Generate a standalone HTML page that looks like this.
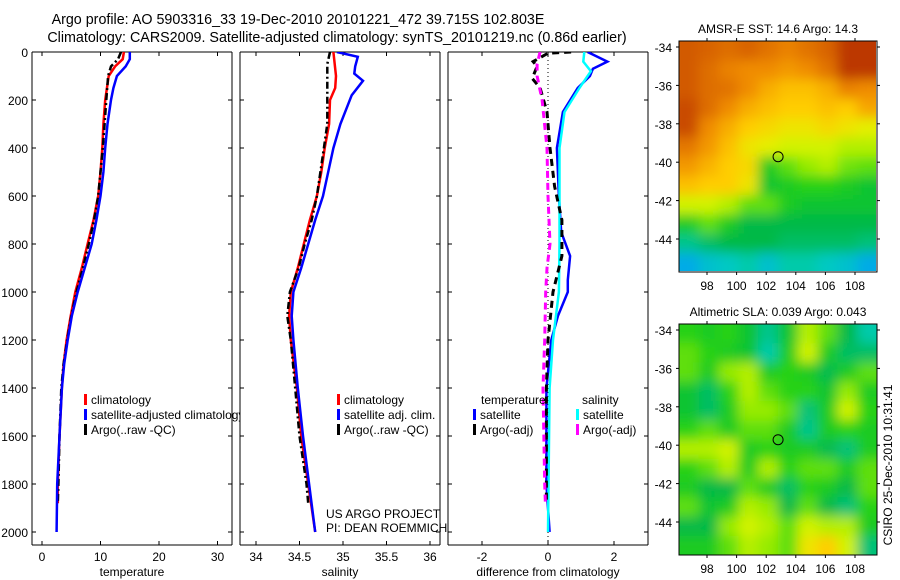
<!DOCTYPE html>
<html><head><meta charset="utf-8"><style>
body{margin:0;background:#fff;}
svg{display:block;font-family:"Liberation Sans",sans-serif;}
</style></head><body>
<svg id="chart" width="900" height="580" viewBox="0 0 900 580">
<defs>
<clipPath id="c1"><rect x="32" y="52" width="208" height="494"/></clipPath>
<clipPath id="c2"><rect x="240" y="52" width="200" height="494"/></clipPath>
<clipPath id="c3"><rect x="448" y="52" width="200" height="494"/></clipPath>
<clipPath id="cm1"><rect x="679" y="41" width="197" height="230"/></clipPath>
<clipPath id="cm2"><rect x="679" y="324" width="198" height="231"/></clipPath>
<filter id="bl" x="-5%" y="-5%" width="110%" height="110%"><feGaussianBlur stdDeviation="6"/></filter>
</defs>
<text x="298" y="24" font-size="14.3" text-anchor="middle">Argo profile: AO 5903316_33 19-Dec-2010 20101221_472 39.715S 102.803E</text>
<text x="337" y="42" font-size="14.3" text-anchor="middle">Climatology: CARS2009. Satellite-adjusted climatology: synTS_20101219.nc (0.86d earlier)</text>
<g id="axes"></g>
<g id="maps"></g>
<text transform="translate(892,465) rotate(-90)" font-size="12" text-anchor="middle">CSIRO 25-Dec-2010 10:31:41</text>
</svg>
<script>
// ---- data ----
const depthTicks=[0,200,400,600,800,1000,1200,1400,1600,1800,2000];
const tempTicks=[0,10,20,30];
const salTicks=[34,34.5,35,35.5,36];
const diffTicks=[-2,0,2];
const latTicks=[-34,-36,-38,-40,-42,-44];
const lonTicks=[98,100,102,104,106,108];
const tempClimDepth=[0,30,60,100,200,300,400,500,600,700,800,900,1000,1100,1200,1300,1400,1600,1800,1880];
const tempClim=[14.0,13.8,12.5,11.4,10.8,10.5,10.3,10.0,9.6,8.8,7.8,6.8,5.7,4.9,4.2,3.7,3.4,3.0,2.7,2.7];
const tempSatDepth=[0,30,60,100,150,200,300,400,500,600,700,800,900,1000,1100,1200,1300,1400,1600,1800,2000];
const tempSat=[15.0,15.0,14.3,12.8,12.2,11.8,11.2,10.8,10.5,10.0,9.3,8.5,7.3,6.1,5.1,4.4,3.8,3.4,3.0,2.6,2.5];
const tempArgoDepth=[0,30,60,100,200,300,400,500,600,700,800,900,1000,1100,1200,1300,1400,1600,1800,1880];
const tempArgo=[13.5,13.0,11.8,11.3,11.0,10.7,10.4,10.0,9.6,8.9,8.0,7.0,5.9,5.0,4.3,3.7,3.3,3.0,2.8,2.7];
const salClimDepth=[0,100,150,200,300,400,500,600,700,800,900,1000,1100,1200,1400,1600,1800,2000];
const salClim=[34.89,34.92,34.91,34.85,34.84,34.79,34.75,34.70,34.62,34.55,34.48,34.40,34.38,34.40,34.47,34.52,34.60,34.68];
const salArgoDepth=[0,50,100,200,300,400,500,600,700,800,900,1000,1100,1200,1400,1600,1800,1880];
const salArgo=[34.85,34.82,34.82,34.82,34.82,34.78,34.74,34.70,34.64,34.56,34.49,34.39,34.36,34.40,34.45,34.50,34.58,34.60];
const salSatDepth=[0,20,60,90,120,180,300,400,500,600,700,800,900,1000,1100,1200,1400,1600,1800,2000];
const salSat=[34.93,35.17,35.14,35.13,35.23,35.10,34.97,34.89,34.83,34.77,34.68,34.60,34.52,34.43,34.41,34.43,34.48,34.54,34.61,34.68];
const dTSatDepth=[0,40,70,100,150,250,400,600,750,850,950,1000,1100,1200,1400,1800,2000];
const dTSat=[1.2,1.8,1.36,1.27,0.9,0.45,0.27,0.33,0.4,0.67,0.6,0.6,0.3,0.1,-0.05,-0.05,0.05];
const dSSatDepth=[0,40,80,150,250,400,600,800,1000,1200,1400,2000];
const dSSat=[1.1,1.07,1.3,0.95,0.5,0.35,0.35,0.35,0.33,0.15,0.05,0];
const dTArgoDepth=[0,5,40,60,110,150,250,400,560,700,850,1000,1200,1400,1800,1880];
const dTArgo=[0.7,0.0,-0.45,-0.33,-0.48,-0.24,-0.03,0.06,0.2,0.42,0.42,0.15,0,-0.05,-0.05,-0.05];
const dSArgoDepth=[0,50,100,200,400,600,800,900,1000,1200,1400,1800,1880];
const dSArgo=[-0.24,-0.33,-0.33,-0.18,-0.03,0,0.06,-0.03,-0.07,-0.1,-0.15,-0.1,-0.08];
const sstGrid=[
[0.90,0.88,0.86,0.88,0.85,0.82,0.85,0.88,0.95,0.95],
[0.90,0.86,0.82,0.80,0.80,0.78,0.80,0.85,0.95,0.95],
[0.90,0.86,0.85,0.80,0.75,0.72,0.72,0.75,0.82,0.80],
[0.92,0.86,0.80,0.75,0.72,0.70,0.70,0.72,0.70,0.76],
[0.92,0.80,0.75,0.70,0.68,0.66,0.66,0.68,0.66,0.64],
[0.84,0.78,0.72,0.66,0.64,0.62,0.62,0.62,0.60,0.60],
[0.78,0.74,0.70,0.68,0.50,0.55,0.58,0.60,0.56,0.55],
[0.72,0.70,0.70,0.66,0.48,0.50,0.52,0.52,0.50,0.48],
[0.62,0.62,0.60,0.55,0.55,0.50,0.48,0.48,0.48,0.48],
[0.50,0.55,0.50,0.45,0.45,0.45,0.45,0.45,0.45,0.45],
[0.38,0.42,0.45,0.45,0.45,0.42,0.42,0.42,0.42,0.40],
[0.25,0.30,0.32,0.35,0.30,0.35,0.35,0.32,0.30,0.25]];
const slaGrid=[
[0.52,0.50,0.52,0.48,0.38,0.48,0.60,0.55,0.45,0.35],
[0.55,0.52,0.50,0.48,0.35,0.50,0.62,0.50,0.42,0.42],
[0.55,0.50,0.58,0.60,0.50,0.52,0.50,0.44,0.50,0.55],
[0.48,0.42,0.52,0.60,0.55,0.52,0.52,0.48,0.58,0.50],
[0.48,0.42,0.50,0.58,0.58,0.55,0.40,0.50,0.62,0.52],
[0.52,0.55,0.50,0.55,0.55,0.50,0.38,0.50,0.52,0.50],
[0.60,0.60,0.62,0.50,0.52,0.50,0.50,0.44,0.40,0.50],
[0.52,0.55,0.60,0.50,0.60,0.52,0.55,0.55,0.50,0.55],
[0.50,0.45,0.45,0.55,0.50,0.42,0.52,0.50,0.45,0.55],
[0.55,0.48,0.50,0.60,0.58,0.45,0.55,0.45,0.40,0.52],
[0.45,0.45,0.58,0.62,0.60,0.55,0.62,0.60,0.60,0.50],
[0.50,0.50,0.55,0.60,0.58,0.55,0.66,0.70,0.62,0.40]];
const floatLon=102.803, floatLat=-39.715;

// ---- helpers ----
const NS='http://www.w3.org/2000/svg';
const axes=document.getElementById('axes'), maps=document.getElementById('maps');
function mk(tag,attrs,parent){const e=document.createElementNS(NS,tag);for(const k in attrs)e.setAttribute(k,attrs[k]);(parent||axes).appendChild(e);return e;}
const yD=d=>52+d*0.24;
const xT=t=>42+t*5.85;
const xS=s=>256+(s-34)*87;
const xDf=v=>548+v*33;

function panel(x0,x1,xs,ticks,fmt,label,yLabels,name){
  const g=mk('g',{});
  
  
  const yb=545;
  mk('line',{x1:x0,y1:52,x2:x1,y2:52,stroke:'#000'},g);
  mk('line',{x1:x0,y1:yb,x2:x1,y2:yb,stroke:'#000'},g);
  mk('line',{x1:x0,y1:52,x2:x0,y2:yb,stroke:'#000'},g);
  mk('line',{x1:x1,y1:52,x2:x1,y2:yb,stroke:'#000'},g);
  ticks.forEach(t=>{const x=xs(t);
    mk('line',{x1:x,y1:yb,x2:x,y2:yb-4,stroke:'#000'},g);
    mk('line',{x1:x,y1:52,x2:x,y2:56,stroke:'#000'},g);
    const tx=mk('text',{x:x,y:yb+16,'font-size':12,'text-anchor':'middle'},g);tx.textContent=fmt(t);
    
    
  });
  depthTicks.forEach(d=>{const y=yD(d);
    mk('line',{x1:x0,y1:y,x2:x0+4,y2:y,stroke:'#000'},g);
    mk('line',{x1:x1,y1:y,x2:x1-4,y2:y,stroke:'#000'},g);
    if(yLabels){const tx=mk('text',{x:x0-4,y:y+5,'font-size':12,'text-anchor':'end'},g);tx.textContent=d;
      
      }
  });
  const lb=mk('text',{x:(x0+x1)/2,y:576,'font-size':12,'text-anchor':'middle'},g);lb.textContent=label;
  
  
}
panel(32,232,xT,tempTicks,String,'temperature',true,'temperature-panel');
panel(240,440,xS,salTicks,String,'salinity',false,'salinity-panel');
panel(448,648,xDf,diffTicks,String,'difference from climatology',false,'difference-panel');
mk('line',{x1:xDf(0),y1:52,x2:xDf(0),y2:545,stroke:'#000','stroke-dasharray':'1,3'});

function line(ds,vs,xs,color,dash,clip,name,w){
  const pts=ds.map((d,i)=>xs(vs[i]).toFixed(1)+','+yD(d).toFixed(1)).join(' ');
  const p=mk('polyline',{points:pts,fill:'none',stroke:color,'stroke-width':w||2.5,'clip-path':'url(#'+clip+')'});
  if(dash)p.setAttribute('stroke-dasharray',dash);
  
  
}
line(tempClimDepth,tempClim,xT,'#f00',null,'c1','temp-climatology-line');
line(tempArgoDepth,tempArgo,xT,'#000','7,3,2,3','c1','temp-argo-line');
line(tempSatDepth,tempSat,xT,'#00f',null,'c1','temp-satellite-line');
line(salClimDepth,salClim,xS,'#f00',null,'c2','sal-climatology-line');
line(salArgoDepth,salArgo,xS,'#000','7,3,2,3','c2','sal-argo-line');
line(salSatDepth,salSat,xS,'#00f',null,'c2','sal-satellite-line');
line(dTSatDepth,dTSat,xDf,'#00f',null,'c3','diff-temp-satellite-line');
line(dSSatDepth,dSSat,xDf,'#0ff',null,'c3','diff-sal-satellite-line');
line(dTArgoDepth,dTArgo,xDf,'#000','7,5','c3','diff-temp-argo-line',3);
line(dSArgoDepth,dSArgo,xDf,'#f0f','7,5','c3','diff-sal-argo-line',3);

function legend(x,y,items,clip,name){
  const g=mk('g',{'clip-path':clip?'url(#'+clip+')':''});
  
  
  items.forEach((it,i)=>{const yy=y+i*15;
    if(it[1])mk('rect',{x:x,y:yy-10,width:3,height:11,fill:it[1]},g);
    const t=mk('text',{x:x+it[2],y:yy,'font-size':12},g);t.textContent=it[0];
    
    
  });
}
legend(84,404,[['climatology','#f00',7],['satellite-adjusted climatology','#00f',7],['Argo(..raw -QC)','#000',7]],'c1','temperature-legend');
legend(337,404,[['climatology','#f00',7],['satellite adj. clim.','#00f',7],['Argo(..raw -QC)','#000',7]],null,'salinity-legend');
legend(473,404,[['temperature',null,8],['satellite','#00f',7],['Argo(-adj)','#000',7]],null,'diff-temp-legend');
legend(576,404,[['salinity',null,6],['satellite','#0ff',7],['Argo(-adj)','#f0f',7]],null,'diff-sal-legend');
const p1=mk('text',{x:326,y:518,'font-size':12});p1.textContent='US ARGO PROJECT';


const p2=mk('text',{x:326,y:532,'font-size':12});p2.textContent='PI: DEAN ROEMMICH';



// ---- maps ----
const stops=[[0,[0,64,255]],[0.2,[0,150,255]],[0.33,[0,205,190]],[0.45,[0,185,70]],[0.52,[40,210,20]],[0.58,[150,235,0]],[0.63,[225,245,0]],[0.7,[255,205,0]],[0.8,[240,140,0]],[0.9,[210,90,0]],[1,[165,20,0]]];
function cmap(v){for(let i=1;i<stops.length;i++){if(v<=stops[i][0]){const a=stops[i-1],b=stops[i],f=(v-a[0])/(b[0]-a[0]);return 'rgb('+a[1].map((c,k)=>Math.round(c+(b[1][k]-c)*f)).join(',')+')';}}return 'rgb(165,20,0)';}
function map(grid,top,title,clip,name){
  const x0=679,x1=877,y0=top,y1=top+231;
  const lonX=l=>707+(l-98)*14.8;
  const latY=l=>top+6+(-34-l)*19.2;
  const g=mk('g',{},maps);
  
  
  const cg=mk('g',{'clip-path':'url(#'+clip+')'},g);
  const ig=mk('g',{filter:'url(#bl)'},cg);
  const rows=grid.length,cols=grid[0].length,cw=(x1-x0)/cols,ch=(y1-y0)/rows;
  grid.forEach((row,r)=>row.forEach((v,c)=>{
    const rc=mk('rect',{x:x0+c*cw-(c==0?12:0),y:y0+r*ch-(r==0?12:0),width:cw+1+(c==0||c==cols-1?12:0),height:ch+1+(r==0||r==rows-1?12:0),fill:cmap(v)},ig);
    
    
  }));
  mk('rect',{x:x0,y:y0,width:x1-x0,height:y1-y0,fill:'none',stroke:'#000'},g);
  const t=mk('text',{x:778,y:top-8,'font-size':12,'text-anchor':'middle'},g);t.textContent=title;
  
  
  latTicks.forEach(l=>{const y=latY(l);
    mk('line',{x1:x0-3,y1:y,x2:x0,y2:y,stroke:'#000'},g);
    mk('line',{x1:x1,y1:y,x2:x1+3,y2:y,stroke:'#000'},g);
    const tx=mk('text',{x:672,y:y+5,'font-size':12,'text-anchor':'end'},g);tx.textContent=l;
    
    });
  lonTicks.forEach(l=>{const x=lonX(l);
    mk('line',{x1:x,y1:y1,x2:x,y2:y1+3,stroke:'#000'},g);
    mk('line',{x1:x,y1:y0-3,x2:x,y2:y0,stroke:'#000'},g);
    const tx=mk('text',{x:x,y:y1+18,'font-size':12,'text-anchor':'middle'},g);tx.textContent=l;
    
    });
  const m=mk('circle',{cx:lonX(floatLon),cy:latY(floatLat),r:5,fill:'none',stroke:'#000'},g);
  
  
}
map(sstGrid,41,'AMSR-E SST: 14.6 Argo: 14.3','cm1','sst-map');
map(slaGrid,324,'Altimetric SLA: 0.039 Argo: 0.043','cm2','sla-map');
</script>
</body></html>
